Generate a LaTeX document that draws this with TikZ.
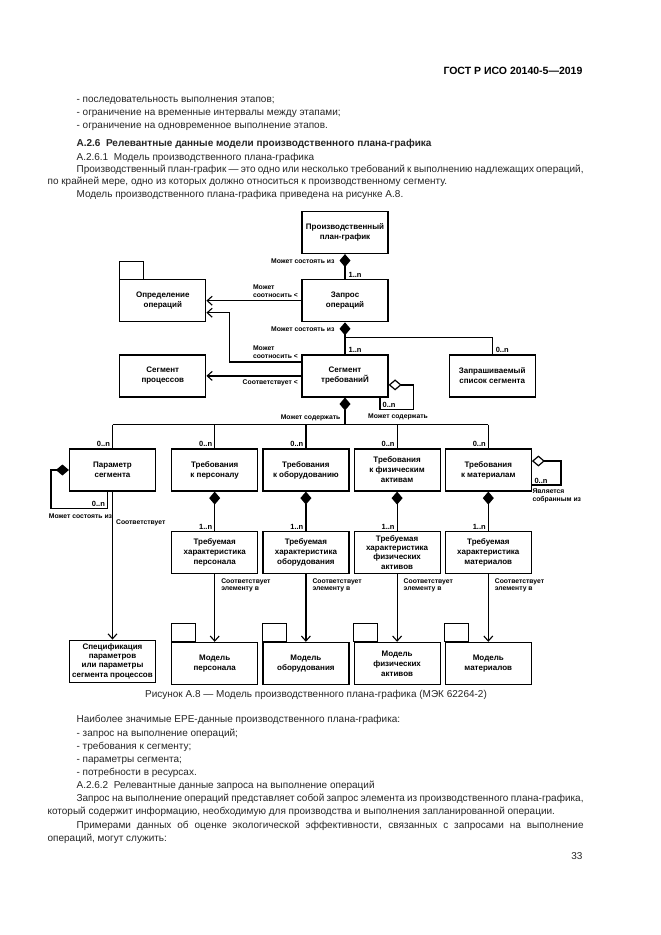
\documentclass[tikz,border=0pt]{standalone}
\usepackage{fontspec}
\setmainfont{Liberation Sans}
\usetikzlibrary{arrows.meta, positioning}
\tikzset{>/.tip={Straight Barb[length=5pt,width=9pt,line width=1.1pt]}}
\tikzset{cd/.tip={Diamond[length=13pt,width=11pt]}}
\tikzset{ad/.tip={Diamond[open,length=13pt,width=11pt]}}
\newcommand{\boxfont}{\fontsize{8}{10}\selectfont\bfseries}
\newcommand{\lblfont}{\fontsize{6.8}{7.8}\selectfont\bfseries}
\newcommand{\txtfont}{\fontsize{10}{12}\selectfont}

\begin{document}
\begin{tikzpicture}[x=1pt, y=-1pt, line width=1.2pt, node distance=4pt,
  box/.style={draw, minimum width=86pt, minimum height=42pt, inner sep=1pt, align=center, font=\boxfont},
  lbl/.style={font=\lblfont, inner sep=1pt, align=left},
  num/.style={font=\fontsize{7.5}{8}\selectfont\bfseries, inner sep=1pt},
  txt/.style={anchor=base west, inner sep=0pt, font=\txtfont, text=black!85}]
  \fill[white] (0,0) rectangle (661,935);
  \useasboundingbox (0,0) rectangle (661,935);

  % page text above the figure
  \node[anchor=base east, inner sep=0pt, font=\fontsize{10.5}{12}\selectfont\bfseries] (hdr) at (583,74) {ГОСТ Р ИСО 20140-5—2019};
  \node[txt] (t1) at (76,102) {- последовательность выполнения этапов;};
  \node[txt] (t2) at (76,115) {- ограничение на временные интервалы между этапами;};
  \node[txt] (t3) at (76,128) {- ограничение на одновременное выполнение этапов.};
  \node[txt, font=\txtfont\bfseries] (t4) at (76,146) {А.2.6\ \ Релевантные данные модели производственного плана-графика};
  \node[txt] (t5) at (76,160) {А.2.6.1\ \ Модель производственного плана-графика};
  \node[txt] (t6) at (76,172) {\makebox[507pt][s]{Производственный план-график — это одно или несколько требований к выполнению надлежащих операций,}};
  \node[txt] (t7) at (47,184) {по крайней мере, одно из которых должно относиться к производственному сегменту.};
  \node[txt] (t8) at (76,197) {Модель производственного плана-графика приведена на рисунке А.8.};

  % classes
  \node[box] (plan) at (345,232.5) {Производственный\\план-график};
  \node[box, below=25pt of plan] (req) {Запрос\\операций};
  \node[box, below=32pt of req] (segreq) {Сегмент\\требованиЙ};
  \node[box, left=95pt of req] (opdef) {Определение\\операций};
  \node[box, left=95pt of segreq] (procseg) {Сегмент\\процессов};
  \node[box, right=60pt of segreq] (reqlist) {Запрашиваемый\\список сегмента};

  \node[box] (param) at (112.5,470) {Параметр\\сегмента};
  \node[box, right=15pt of param] (pers) {Требования\\к персоналу};
  \node[box, right=of pers] (eq) {Требования\\к оборудованию};
  \node[box, right=of eq] (phys) {Требования\\к физическим\\активам};
  \node[box, right=of phys] (mat) {Требования\\к материалам};

  \node[box, below=39pt of pers] (pers2) {Требуемая\\характеристика\\персонала};
  \node[box, below=39pt of eq] (eq2) {Требуемая\\характеристика\\оборудования};
  \node[box, below=39pt of phys, font=\fontsize{8}{9.4}\selectfont\bfseries] (phys2) {Требуемая\\характеристика\\физических\\активов};
  \node[box, below=39pt of mat] (mat2) {Требуемая\\характеристика\\материалов};

  \node[box, below=148pt of param, font=\fontsize{8}{9.4}\selectfont\bfseries] (spec) {Спецификация\\параметров\\или параметры\\сегмента процессов};
  \node[box, below=68pt of pers2] (mpers) {Модель\\персонала};
  \node[box, below=68pt of eq2] (meq) {Модель\\оборудования};
  \node[box, below=68pt of phys2] (mphys) {Модель\\физических\\активов};
  \node[box, below=68pt of mat2] (mmat) {Модель\\материалов};
  \foreach \n in {opdef,mpers,meq,mphys,mmat}
    \draw (\n.north west) rectangle ++(24pt,18pt);

  % upper associations
  \draw[cd-] (plan.south) -- (req.north) node[num, pos=1, anchor=south west, xshift=2pt] (m1) {1..n};
  \node[lbl, anchor=east] (l1) at ([xshift=-9pt,yshift=-7pt]plan.south) {Может состоять из};
  \draw[->] (req.west) -- (req.west -| opdef.east);
  \node[lbl, anchor=south east] (l2) at ([xshift=-2pt,yshift=2pt]req.west) {Может\\соотносить <};
  \draw[->] ([yshift=14pt]segreq.west) -- ++(-72,0) |- ([yshift=-12pt]opdef.east);
  \node[lbl, anchor=south east] (l3) at ([xshift=-2pt,yshift=16pt]segreq.west) {Может\\соотносить <};
  \draw[->] (segreq.west) -- (procseg.east);
  \node[lbl, anchor=north east] (l4) at ([xshift=-2pt,yshift=-2pt]segreq.west) {Соответствует <};
  \draw[cd-] (req.south) -- (segreq.north) node[num, pos=1, anchor=south west, xshift=2pt] (m2) {1..n};
  \node[lbl, anchor=east] (l5) at ([xshift=-9pt,yshift=-7pt]req.south) {Может состоять из};
  \draw ([yshift=-15pt]req.south) -| (reqlist.north) node[num, pos=1, anchor=south west, xshift=2pt] (m3) {0..n};
  \draw[ad-] ([yshift=-9pt]segreq.east) -- ++(25,0) |- ([xshift=35pt,yshift=-12pt]segreq.south) -- ([xshift=35pt]segreq.south);
  \node[num, anchor=south west] (m4) at ([xshift=36pt,yshift=-12pt]segreq.south) {0..n};
  \node[lbl, anchor=north] (l6) at ([xshift=53pt,yshift=-15pt]segreq.south) {Может содержать};

  % bus to the requirements
  \coordinate (bus) at ([yshift=-27pt]segreq.south);
  \draw[cd-] (segreq.south) -- (bus);
  \node[lbl, anchor=south east] (l7) at ([xshift=-3pt,yshift=2pt]bus) {Может содержать};
  \draw (bus -| param.north) -- (bus -| mat.north);
  \foreach \n in {param,pers,eq,phys,mat}
    \draw (bus -| \n.north) -- (\n.north) node[num, pos=1, anchor=south east, xshift=-1pt] (z\n) {0..n};

  % parameter
  \draw[cd-] (param.west) -- ++(-18,0) |- ([xshift=-5pt,yshift=-17pt]param.south) -- ([xshift=-5pt]param.south);
  \node[num, anchor=south east] (m5) at ([xshift=-6pt,yshift=-17pt]param.south) {0..n};
  \node[lbl, anchor=north] (l8) at ([xshift=-32pt,yshift=-21pt]param.south) {Может состоять из};
  \draw[->] (param.south) -- (spec.north);
  \node[lbl, anchor=west] (l9) at ([xshift=2pt,yshift=-31pt]param.south) {Соответствует};

  % resources
  \foreach \a in {pers,eq,phys,mat}
    \draw[cd-] (\a.south) -- (\a2.north) node[num, pos=1, anchor=south east, xshift=-1pt] (o\a) {1..n};
  \foreach \a/\b in {pers2/mpers, eq2/meq, phys2/mphys, mat2/mmat} {
    \draw[->] (\a.south) -- (\b.north);
    \node[lbl, anchor=north west] (c\a) at ([xshift=5pt,yshift=-3pt]\a.south) {Соответствует\\элементу в};
  }
  \draw[ad-] ([yshift=9pt]mat.east) -- ++(29,0) |- ([yshift=-15pt]mat.east);
  \node[num, anchor=south west] (m6) at ([xshift=1pt,yshift=-15pt]mat.east) {0..n};
  \node[lbl, anchor=north west] (l10) at ([xshift=-1pt,yshift=-17pt]mat.east) {Является\\собранным из};

  % page text below the figure
  \node[anchor=base, inner sep=0pt, font=\txtfont, text=black!85] (cap) at (316,697) {Рисунок А.8 — Модель производственного плана-графика (МЭК 62264-2)};
  \node[txt] (b1) at (76,722) {Наиболее значимые ЕРЕ-данные производственного плана-графика:};
  \node[txt] (b2) at (76,736) {- запрос на выполнение операций;};
  \node[txt] (b3) at (76,749) {- требования к сегменту;};
  \node[txt] (b4) at (76,762) {- параметры сегмента;};
  \node[txt] (b5) at (76,775) {- потребности в ресурсах.};
  \node[txt] (b6) at (76,788) {А.2.6.2\ \ Релевантные данные запроса на выполнение операций};
  \node[txt] (b7) at (76,801) {\makebox[507pt][s]{Запрос на выполнение операций представляет собой запрос элемента из производственного плана-графика,}};
  \node[txt] (b8) at (47,814) {который содержит информацию, необходимую для производства и выполнения запланированной операции.};
  \node[txt] (b9) at (76,828) {\makebox[507pt][s]{Примерами данных об оценке экологической эффективности, связанных с запросами на выполнение}};
  \node[txt] (b10) at (47,841) {операций, могут служить:};
  \node[anchor=base east, inner sep=0pt, font=\txtfont, text=black!85] (pg) at (583,859) {33};
\end{tikzpicture}
\end{document}
